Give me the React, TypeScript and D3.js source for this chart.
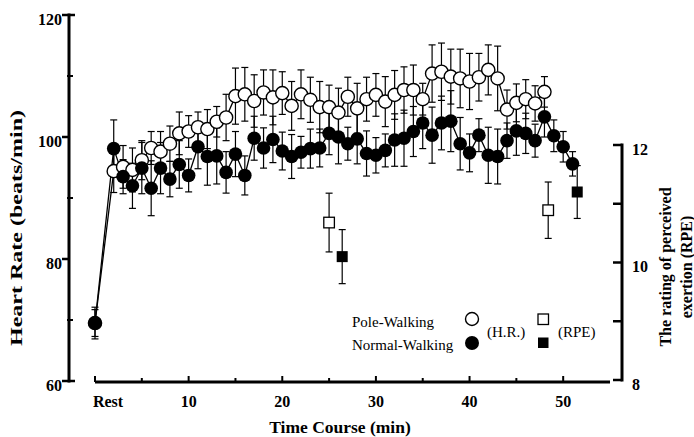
import React from "react";
import * as d3 from "d3";

// time points (min); 0 = Rest, no sample at minute 1
const minutes = [0, 2, 3, 4, 5, 6, 7, 8, 9, 10, 11, 12, 13, 14, 15, 16, 17, 18, 19, 20, 21, 22, 23, 24, 25, 26,
  27, 28, 29, 30, 31, 32, 33, 34, 35, 36, 37, 38, 39, 40, 41, 42, 43, 44, 45, 46, 47, 48, 49, 50, 51];

// heart rate, pole walking (open circles) - ends at 48 min
const poleHR = [69.5, 94.4, 95.1, 94.6, 96.2, 98.2, 97.6, 98.9, 100.6, 100.9, 101.6, 101.3, 102.5, 103.2, 106.7, 107.0,
  105.9, 107.3, 106.5, 107.2, 105.1, 107.0, 106.1, 104.9, 104.9, 104.0, 106.6, 104.7, 106.2, 106.9, 105.8, 106.9,
  107.7, 107.7, 106.2, 110.4, 110.7, 109.9, 109.6, 109.1, 109.8, 111.0, 109.6, 104.5, 105.6, 106.2, 105.5, 107.4];
const poleSD = [2.6, 3.5, 3.5, 3.6, 3.2, 2.7, 3.3, 2.9, 3.5, 2.6, 2.5, 3.2, 2.5, 3.8, 4.6, 4.4, 4.3, 3.7, 4.5, 3.5,
  4.0, 4.0, 3.7, 4.2, 3.6, 4.0, 3.2, 4.1, 3.6, 3.5, 4.1, 4.0, 3.8, 4.1, 2.6, 4.7, 4.7, 4.5, 4.8, 4.6, 3.9, 4.1,
  5.3, 3.2, 3.1, 3.2, 2.9, 2.5];

// heart rate, normal walking (filled circles)
const normalHR = [69.5, 98.1, 93.5, 92.0, 94.9, 91.6, 94.9, 93.1, 95.5, 93.7, 98.4, 96.8, 96.9, 94.2, 97.2, 93.7,
  99.8, 98.2, 99.6, 97.7, 96.8, 97.5, 98.1, 98.2, 100.6, 100.0, 98.9, 99.7, 97.3, 97.0, 97.8, 99.5, 99.8, 100.9,
  102.3, 100.3, 102.3, 102.6, 98.9, 97.4, 100.3, 97.0, 96.8, 99.4, 101.0, 100.6, 99.4, 103.3, 100.2, 98.4, 95.6];
const normalSD = [2.2, 4.7, 2.8, 3.7, 4.2, 4.5, 4.2, 2.9, 3.9, 2.7, 3.6, 4.7, 4.6, 3.4, 3.7, 3.2, 3.6, 3.3, 3.8,
  3.1, 3.6, 2.6, 3.2, 3.1, 3.5, 4.4, 2.7, 4.1, 3.7, 2.9, 2.7, 4.3, 4.6, 4.1, 4.2, 4.6, 4.4, 5.0, 4.3, 3.1, 2.7,
  4.6, 4.5, 2.9, 4.0, 3.3, 2.7, 3.3, 2.6, 2.5, 2.0];

// RPE (squares, right axis)
const poleRPETime = [25.0, 48.4];
const poleRPE = [10.68, 10.89];
const poleRPESD = [0.5, 0.48];
const normalRPETime = [26.4, 51.5];
const normalRPE = [10.1, 11.2];
const normalRPESD = [0.46, 0.45];

const hrTickLabels = [60, 80, 100, 120];
const rpeTickLabels = [8, 10, 12];
const timeTickLabels = ["Rest", "10", "20", "30", "40", "50"];

const W = 694, H = 437;
const FONT = "'Liberation Serif', 'Times New Roman', serif";

export default function App() {
  const x = d3.scaleLinear().domain([0, 55]).range([95, 610]);
  const yHR = d3.scaleLinear().domain([60, 120]).range([381, 15]);
  const yRPE = d3.scaleLinear().domain([8, 12]).range([380, 145]);

  const pole = poleHR.map((v, i) => ({ t: minutes[i], v, sd: poleSD[i] }));
  const normal = normalHR.map((v, i) => ({ t: minutes[i], v, sd: normalSD[i] }));
  const rpeOpen = poleRPE.map((v, i) => ({ t: poleRPETime[i], v, sd: poleRPESD[i] }));
  const rpeFill = normalRPE.map((v, i) => ({ t: normalRPETime[i], v, sd: normalRPESD[i] }));

  const line = d3.line<{ t: number; v: number }>().x(d => x(d.t)).y(d => yHR(d.v));

  const errBar = (cx: number, y0: number, y1: number, key: string) => (
    <g key={key} stroke="#000" strokeWidth={1.2}>
      <line x1={cx} x2={cx} y1={y0} y2={y1} />
      <line x1={cx - 3.5} x2={cx + 3.5} y1={y0} y2={y0} />
      <line x1={cx - 3.5} x2={cx + 3.5} y1={y1} y2={y1} />
    </g>
  );

  const axisX = 69, rAxisX = 622, baseY = 382;

  return (
    <div style={{ position: "absolute", left: 0, top: 0 }}>
      <svg width={W} height={H} style={{ display: "block", background: "#fff" }} fontFamily={FONT}>
        {/* left axis */}
        <g stroke="#000" fill="none">
          <line x1={axisX} x2={axisX} y1={yHR(120) - 1.5} y2={yHR(60) + 1.5} strokeWidth={3} />
          {yHR.ticks(6).map(t =>
            hrTickLabels.includes(t)
              ? <line key={t} x1={axisX - 7} x2={t === 60 || t === 120 ? axisX + 6 : axisX} y1={yHR(t)} y2={yHR(t)} strokeWidth={2.5} />
              : <line key={t} x1={axisX - 2} x2={axisX + 4} y1={yHR(t)} y2={yHR(t)} strokeWidth={2} />
          )}
        </g>
        {hrTickLabels.map(t => (
          <text key={t} x={axisX - 7} y={yHR(t) + 4} textAnchor="end" dominantBaseline="central"
            fontSize={16} fontWeight="bold">{t}</text>
        ))}
        <text transform={`translate(22,228) rotate(-90)`} textAnchor="middle" fontSize={16} fontWeight="bold"
          textLength={236} lengthAdjust="spacingAndGlyphs">Heart Rate (beats/min)</text>

        {/* right axis */}
        <g stroke="#000" fill="none">
          <line x1={rAxisX} x2={rAxisX} y1={yRPE(12) - 1.5} y2={yRPE(8) + 1.5} strokeWidth={3} />
          {yRPE.ticks(4).map(t => (
            <line key={t} x1={rAxisX - 9} x2={rAxisX} y1={yRPE(t)} y2={yRPE(t)} strokeWidth={2.5} />
          ))}
        </g>
        {rpeTickLabels.map(t => (
          <text key={t} x={rAxisX + 10} y={yRPE(t) + 4} dominantBaseline="central" fontSize={16} fontWeight="bold">{t}</text>
        ))}
        <g fontSize={16} fontWeight="bold" textAnchor="middle">
          <text transform="translate(671,267) rotate(-90)">The rating of perceived</text>
          <text transform="translate(692,267) rotate(-90)">exertion (RPE)</text>
        </g>

        {/* bottom axis */}
        <g stroke="#000" fill="none">
          <line x1={x(0)} x2={x(55)} y1={baseY} y2={baseY} strokeWidth={3} />
          {d3.range(0, 55, 5).map(t => (
            <line key={t} x1={x(t)} x2={x(t)} y1={baseY} y2={baseY - (t % 10 === 0 ? 6 : 4)} strokeWidth={2} />
          ))}
        </g>
        {timeTickLabels.map((s, i) => (
          <text key={s} x={x(i * 10) + (i === 0 ? 13 : 0)} y={407} textAnchor="middle" fontSize={16} fontWeight="bold">{s}</text>
        ))}
        <text x={340} y={433} textAnchor="middle" fontSize={17.5} fontWeight="bold">Time Course (min)</text>

        {/* connecting lines */}
        <path d={line(pole) || ""} fill="none" stroke="#000" strokeWidth={1.3} />
        <path d={line(normal) || ""} fill="none" stroke="#000" strokeWidth={1.3} />

        {/* error bars */}
        {pole.map((d, i) => errBar(x(d.t), yHR(d.v + d.sd), yHR(d.v - d.sd), "pe" + i))}
        {normal.map((d, i) => errBar(x(d.t), yHR(d.v + d.sd), yHR(d.v - d.sd), "ne" + i))}
        {rpeOpen.map((d, i) => errBar(x(d.t), yRPE(d.v + d.sd), yRPE(d.v - d.sd), "re" + i))}
        {rpeFill.map((d, i) => errBar(x(d.t), yRPE(d.v + d.sd), yRPE(d.v - d.sd), "rf" + i))}

        {/* markers */}
        {pole.map((d, i) => (
          <circle key={"p" + i} cx={x(d.t)} cy={yHR(d.v)} r={6.6} fill="#fff" stroke="#000" strokeWidth={1.4} />
        ))}
        {normal.map((d, i) => (
          <circle key={"n" + i} cx={x(d.t)} cy={yHR(d.v)} r={6.8} fill="#000" />
        ))}
        {rpeOpen.map((d, i) => (
          <rect key={"ro" + i} x={x(d.t) - 5.3} y={yRPE(d.v) - 5.3} width={10.6} height={10.6} fill="#fff" stroke="#000" strokeWidth={1.3} />
        ))}
        {rpeFill.map((d, i) => (
          <rect key={"rf" + i} x={x(d.t) - 5.5} y={yRPE(d.v) - 5.5} width={11} height={11} fill="#000" />
        ))}

        {/* legend */}
        <g fontSize={15}>
          <text x={352} y={327}>Pole-Walking</text>
          <text x={352} y={350}>Normal-Walking</text>
          <text x={487} y={337}>(H.R.)</text>
          <text x={558} y={337}>(RPE)</text>
        </g>
        <circle cx={472} cy={319} r={6.5} fill="#fff" stroke="#000" strokeWidth={1.4} />
        <circle cx={472} cy={343} r={7} fill="#000" />
        <rect x={538} y={314} width={10.5} height={10.5} fill="#fff" stroke="#000" strokeWidth={1.3} />
        <rect x={538} y={337.5} width={10.5} height={10.5} fill="#000" />
      </svg>
    </div>
  );
}
